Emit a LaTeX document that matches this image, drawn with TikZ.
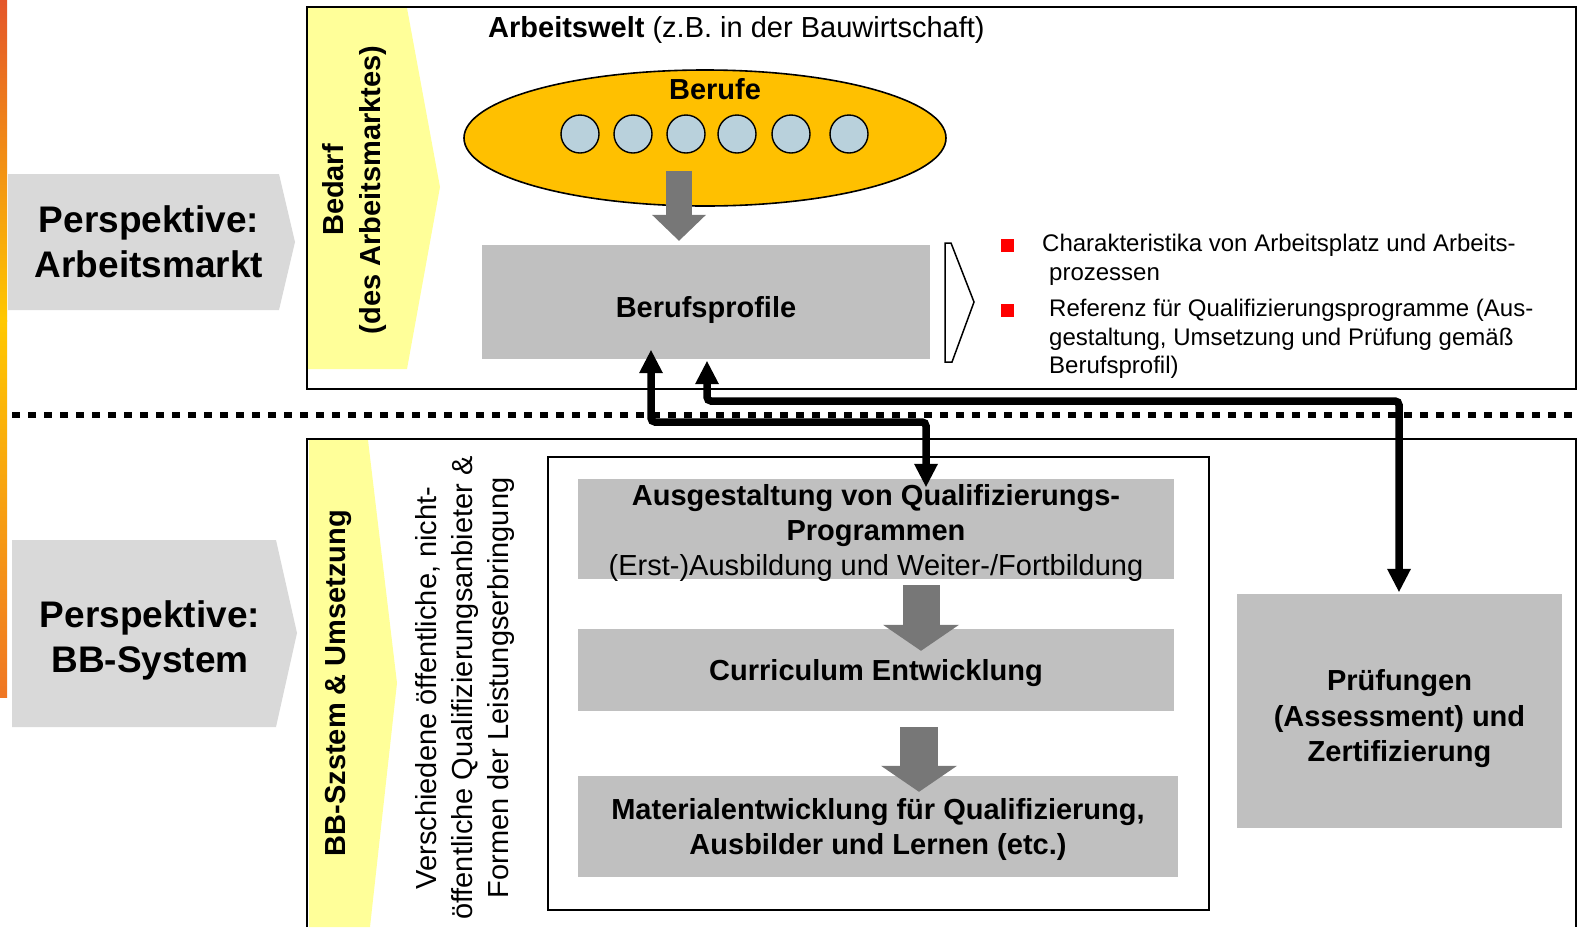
\documentclass[tikz,border=0pt]{standalone}
\usepackage{fontspec}
\setmainfont{Liberation Sans}
\usetikzlibrary{arrows.meta,calc,shapes.geometric}

\definecolor{leisteoben}{HTML}{E4562A}
\definecolor{leistemitte}{HTML}{FFC800}
\definecolor{leisteunten}{HTML}{EF7623}
\definecolor{persp}{HTML}{D9D9D9}
\definecolor{bedarfgelb}{HTML}{FFFF99}
\definecolor{berufgelb}{HTML}{FFC000}
\definecolor{kreisblau}{HTML}{B9D1DC}
\definecolor{boxgrau}{HTML}{C0C0C0}
\definecolor{pfeilgrau}{HTML}{777777}

\tikzset{
  perspektive/.style={align=center, inner sep=0pt, font=\bfseries\fontsize{37}{45}\selectfont},
  graybox/.style={fill=boxgrau, inner sep=0pt},
  boxtext/.style={align=center, inner sep=0pt, font=\bfseries\fontsize{29}{35}\selectfont},
  kreis/.style={circle, draw=black, line width=1.4pt, fill=kreisblau, minimum size=38pt, inner sep=0pt},
  bullet/.style={fill=red, minimum size=13pt, inner sep=0pt},
  merkmal/.style={anchor=north west, align=left, inner sep=0pt, font=\fontsize{24}{28.7}\selectfont},
  frame/.style={line width=2.2pt},
  fatarrow/.style 2 args={draw=pfeilgrau, line width=#1, -{Triangle[width=#2, length=26pt, line width=0pt]}},
  link/.style={line width=7.5pt, rounded corners=4pt,
    {Triangle[width=24pt, length=23pt, line width=0pt]}-{Triangle[width=24pt, length=23pt, line width=0pt]}},
}

\begin{document}
\begin{tikzpicture}[x=1pt,y=-1pt]
\useasboundingbox (0,0) rectangle (1579,927);
% Farbleiste
\shade[top color=leisteoben, bottom color=leistemitte] (0,0) rectangle (7,321);
\shade[top color=leistemitte, bottom color=leisteunten] (0,320) rectangle (7,697);

% Perspektiven
\fill[persp] (8,174) -- (279,174) -- (295,242) -- (279,310) -- (8,310) -- cycle;
\fill[persp] (12,540) -- (276,540) -- (297,633) -- (276,727) -- (12,727) -- cycle;
\node[perspektive] (pmarkt) at (149,242) {Perspektive:\\Arbeitsmarkt};
\node[perspektive] (psystem) at (150,640) {Perspektive:\\BB-System};

% Arbeitswelt
\fill[bedarfgelb] (308,8) -- (407,8) -- (440,187) -- (407,369) -- (308,369) -- cycle;
\draw[frame] (307,7) rectangle (1576,389);
\node[rotate=90, align=center, inner sep=0pt, font=\bfseries\fontsize{29}{37}\selectfont] (bedarf) at (354,190) {Bedarf\\(des Arbeitsmarktes)};
\node[anchor=base west, inner sep=0pt, font=\fontsize{29}{35}\selectfont] (welt) at (488,37) {\textbf{Arbeitswelt} (z.B. in der Bauwirtschaft)};

\node[ellipse, draw=black, line width=1.6pt, fill=berufgelb, minimum width=482pt, minimum height=136pt] (berufe) at (705,138) {};
\node[inner sep=0pt, font=\bfseries\fontsize{29}{35}\selectfont] (berufetitel) at (715,89) {Berufe};
\foreach \x [count=\i] in {580,633,686,737,791,849}
  \node[kreis] (k\i) at (\x,134) {};

\node[graybox, minimum width=448pt, minimum height=114pt] (profil) at (706,302) {};
\node[boxtext] (profiltext) at ($(profil)+(0,8)$) {Berufsprofile};
\draw[fatarrow={26pt}{54pt}] ($(berufe.south)+(-26,-36)$) -- ($(profil.north)+(-27,-4)$);

\draw[line width=1.5pt, fill=white] (945,243) -- (951,243) -- (974,302) -- (952,362) -- (945,362) -- cycle;
\node[bullet] (b1) at (1007.5,245) {};
\node[bullet] (b2) at (1007.5,310.5) {};
\node[merkmal] (merkmal1) at (1042,234) {Charakteristika von Arbeitsplatz und Arbeits-\\\hspace*{7pt}prozessen};
\node[merkmal] (merkmal2) at (1049,299) {Referenz für Qualifizierungsprogramme (Aus-\\gestaltung, Umsetzung und Prüfung gemäß\\Berufsprofil)};

% Trennlinie
\draw[line width=6.5pt, dash pattern=on 8pt off 8pt] (12,415) -- (1579,415);

% BB-System
\fill[bedarfgelb] (309,440) -- (368,440) -- (397,683) -- (370,927) -- (309,927) -- cycle;
\draw[frame] (307,927) -- (307,439) -- (1576,439) -- (1576,927);
\node[rotate=90, inner sep=0pt, font=\bfseries\fontsize{29}{35}\selectfont] (bbsystem) at (338,683) {BB-Szstem \& Umsetzung};
\node[rotate=90, align=center, inner sep=0pt, font=\fontsize{29}{36}\selectfont] (anbieter) at (465,688) {Verschiedene öffentliche, nicht-\\öffentliche Qualifizierungsanbieter \&\\Formen der Leistungserbringung};

\draw[frame] (548,457) rectangle (1209,910);
\node[graybox, minimum width=596pt, minimum height=100pt] (quali) at (876,529) {};
\node[graybox, minimum width=596pt, minimum height=82pt] (curri) at (876,670) {};
\node[graybox, minimum width=600pt, minimum height=101pt] (material) at (878,826.5) {};
\node[boxtext] (qualitext) at ($(quali)+(0,4)$) {Ausgestaltung von Qualifizierungs-\\Programmen\\\mdseries(Erst-)Ausbildung und Weiter-/Fortbildung};
\node[boxtext] (curritext) at ($(curri)+(0,3)$) {Curriculum Entwicklung};
\node[boxtext] (materialtext) at ($(material)+(0,3)$) {Materialentwicklung für Qualifizierung,\\Ausbilder und Lernen (etc.)};
\draw[fatarrow={37pt}{76pt}] ($(quali.south)+(45,6)$) -- ($(curri.north)+(45,22)$);
\draw[fatarrow={38pt}{76pt}] ($(curri.south)+(43,16)$) -- ($(material.north)+(41,16)$);

\node[graybox, minimum width=325pt, minimum height=234pt] (pruef) at (1399.5,711) {};
\node[boxtext, font=\bfseries\fontsize{29}{35.5}\selectfont] (prueftext) at ($(pruef)+(0,8)$) {Prüfungen\\(Assessment) und\\Zertifizierung};

% Verbindungen
\coordinate (knickA) at (926,422);
\coordinate (knickB) at (1399,401);
\draw[link] ($(profil.south)+(-55,-9)$) |- (knickA) -- ($(knickA |- quali.north)+(0,8)$);
\draw[link] ($(profil.south)+(1,2)$) |- (knickB) -- ($(knickB |- pruef.north)+(0,-2)$);
\end{tikzpicture}
\end{document}
